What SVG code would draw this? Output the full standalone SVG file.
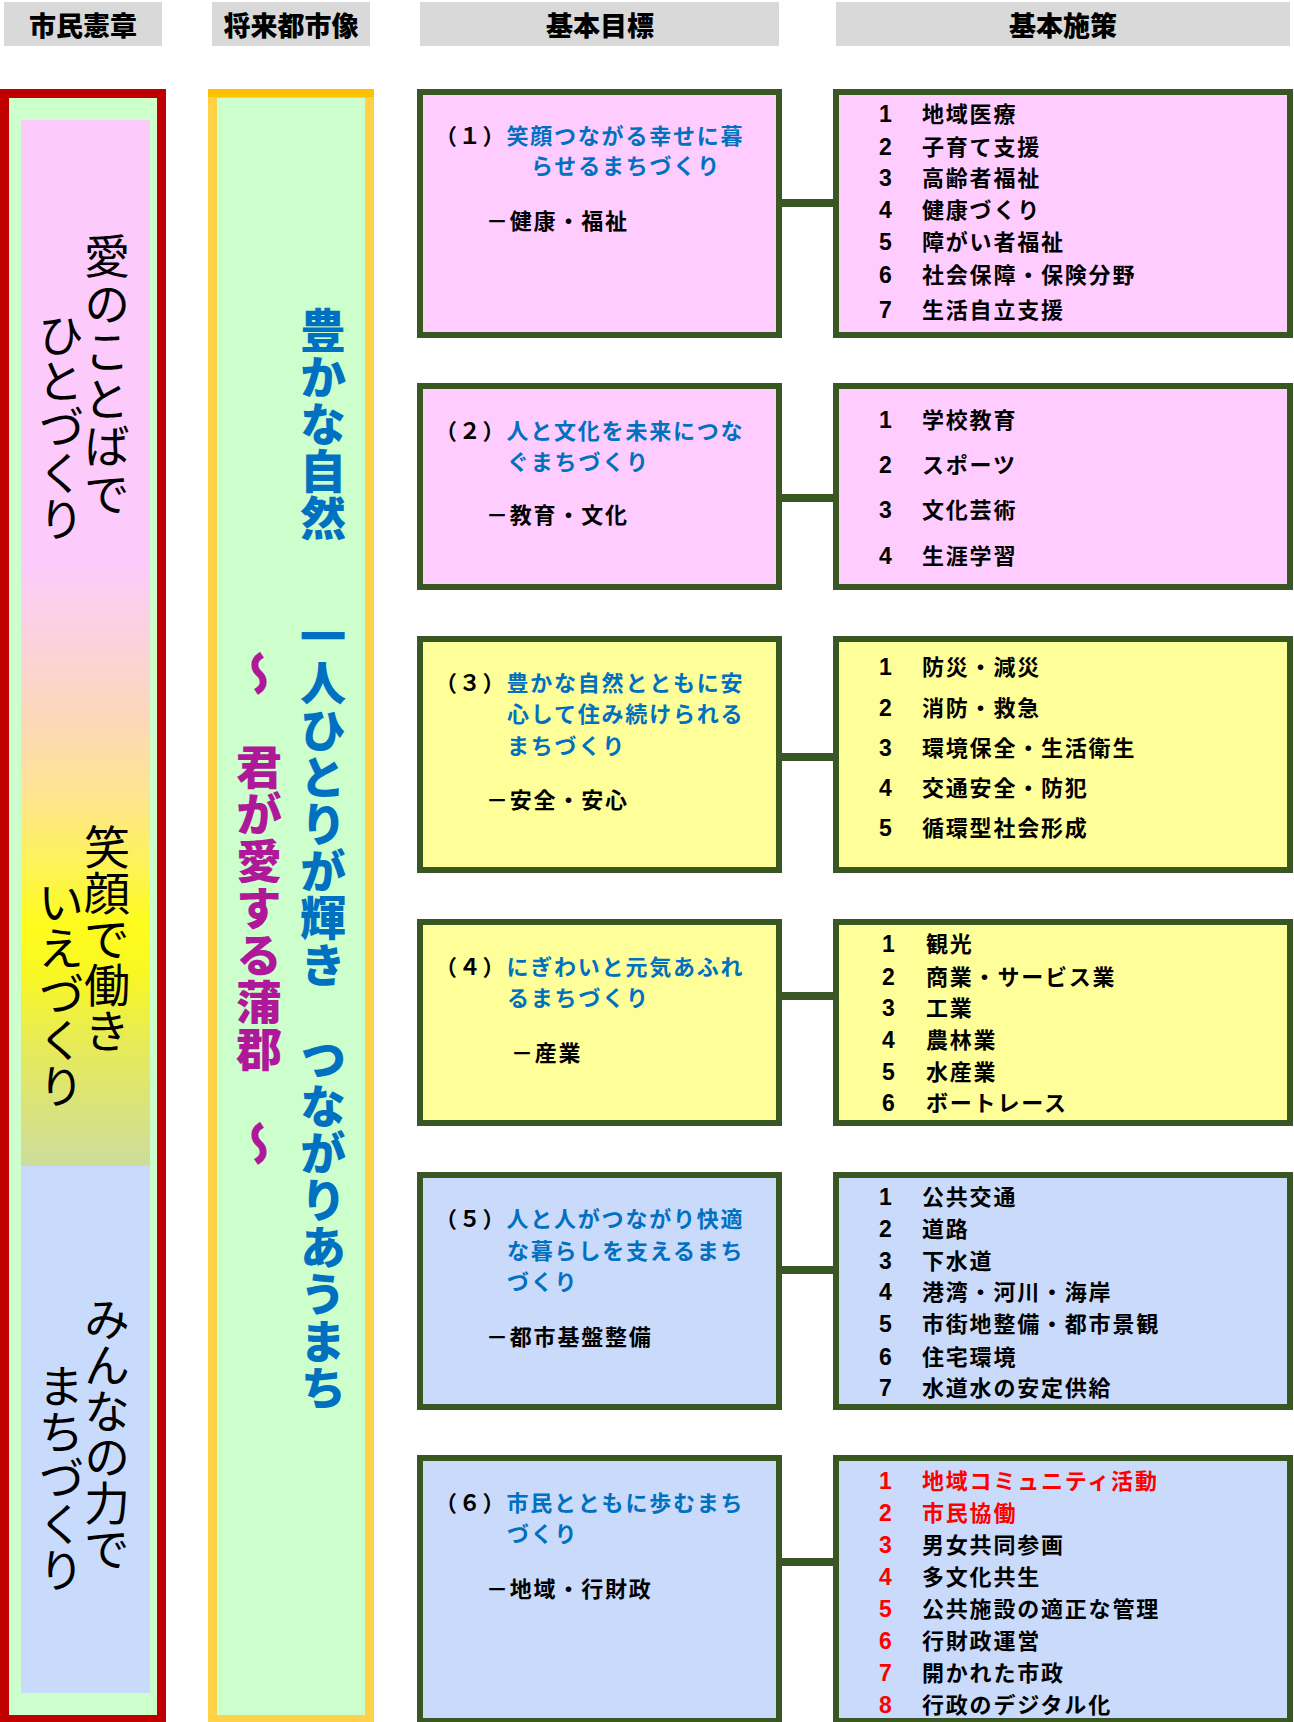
<svg xmlns="http://www.w3.org/2000/svg" width="1294" height="1722" viewBox="0 0 1294 1722">
<defs>
<linearGradient id="charter" gradientUnits="userSpaceOnUse" x1="0" y1="120" x2="0" y2="1166">
<stop offset="0" stop-color="#fccbfc"/>
<stop offset="0.4207" stop-color="#fccbfc"/>
<stop offset="0.4971" stop-color="#fbd2dc"/>
<stop offset="0.5736" stop-color="#fcd8b8"/>
<stop offset="0.6405" stop-color="#fde493"/>
<stop offset="0.7075" stop-color="#fdf25c"/>
<stop offset="0.7696" stop-color="#fefc1c"/>
<stop offset="0.8174" stop-color="#f8f724"/>
<stop offset="0.8795" stop-color="#e8eb55"/>
<stop offset="1" stop-color="#cedc9c"/>
</linearGradient>
<style>
.hdr{fill:#d9d9d9}
.hdrt{font-family:"Noto Sans CJK JP","Noto Sans CJK SC",sans-serif;font-weight:900;font-size:27px;fill:#000;text-anchor:middle}
.box{stroke:#385723;stroke-width:6}
.pink{fill:#ffccff}
.yel{fill:#ffff99}
.blu{fill:#c9dafa}
.t{font-family:"Noto Sans CJK JP","Noto Sans CJK SC",sans-serif;font-weight:700;font-size:22px;letter-spacing:1.8px;fill:#000}
.n{font-family:"Liberation Sans",Arial,sans-serif;font-weight:700;font-size:23px;fill:#000}
.b{fill:#0070c0}
.r{fill:#ff0000}
.conn{fill:#385723}
.vl{font-family:"Noto Sans CJK JP","Noto Sans CJK SC",sans-serif;font-weight:400;font-size:46px;fill:#000;writing-mode:vertical-rl}
.vm{font-family:"Noto Sans CJK JP","Noto Sans CJK SC",sans-serif;font-weight:900;font-size:46px;letter-spacing:1px;writing-mode:vertical-rl}
</style>
</defs>

<g id="headers">
<rect class="hdr" x="4" y="2" width="158" height="44"/>
<text class="hdrt" x="83" y="36">市民憲章</text>
<rect class="hdr" x="212" y="2" width="158" height="44"/>
<text class="hdrt" x="291" y="36">将来都市像</text>
<rect class="hdr" x="420" y="2" width="359" height="44"/>
<text class="hdrt" x="600" y="36">基本目標</text>
<rect class="hdr" x="836" y="2" width="454" height="44"/>
<text class="hdrt" x="1063" y="36">基本施策</text>
</g>

<g id="charter">
<rect x="4.5" y="93.5" width="157" height="1626" fill="#ccffcc" stroke="#c00000" stroke-width="9"/>
<rect x="21" y="120" width="129" height="1047" fill="url(#charter)"/>
<rect x="21" y="1166" width="129" height="527" fill="#c9dbfc"/>
<text class="vl" x="107" y="233" letter-spacing="1.5">愛のことばで</text>
<text class="vl" x="61" y="312">ひとづくり</text>
<text class="vl" x="107" y="824">笑顔で働き</text>
<text class="vl" x="61" y="879">いえづくり</text>
<text class="vl" x="107" y="1296">みんなの力で</text>
<text class="vl" x="61" y="1363">まちづくり</text>
</g>

<g id="vision">
<rect x="212.5" y="93.5" width="157" height="1626" fill="#ccffcc" stroke="#ffd147" stroke-width="9"/>
<rect x="208" y="89" width="166" height="8" fill="#ffc000"/>
<text class="vm" x="323" y="307" fill="#0070c0">豊かな自然</text>
<text class="vm" x="323" y="613" fill="#0070c0">一人ひとりが輝き　つながりあうまち</text>
<text class="vm" x="259" y="650" fill="#b0189a">～　君が愛する蒲郡　～</text>
</g>

<g id="connectors">
<rect class="conn" x="779" y="199" width="57" height="8"/>
<rect class="conn" x="779" y="494" width="57" height="8"/>
<rect class="conn" x="779" y="753" width="57" height="8"/>
<rect class="conn" x="779" y="992" width="57" height="8"/>
<rect class="conn" x="779" y="1266" width="57" height="8"/>
<rect class="conn" x="779" y="1558" width="57" height="8"/>
</g>

<g id="goal1">
<rect class="box pink" x="420" y="92" width="359" height="243"/>
<text class="t" x="435" y="144">（１）<tspan class="b">笑顔つながる幸せに暮</tspan></text>
<text class="t b" x="531" y="174">らせるまちづくり</text>
<text class="t" x="486" y="229">－健康・福祉</text>
</g>
<g id="policy1">
<rect class="box pink" x="836" y="92" width="454" height="243"/>
<text class="n" x="879" y="122">1</text><text class="t" x="922" y="122">地域医療</text>
<text class="n" x="879" y="155">2</text><text class="t" x="922" y="155">子育て支援</text>
<text class="n" x="879" y="186">3</text><text class="t" x="922" y="186">高齢者福祉</text>
<text class="n" x="879" y="218">4</text><text class="t" x="922" y="218">健康づくり</text>
<text class="n" x="879" y="250">5</text><text class="t" x="922" y="250">障がい者福祉</text>
<text class="n" x="879" y="283">6</text><text class="t" x="922" y="283">社会保障・保険分野</text>
<text class="n" x="879" y="318">7</text><text class="t" x="922" y="318">生活自立支援</text>
</g>

<g id="goal2">
<rect class="box pink" x="420" y="386" width="359" height="201"/>
<text class="t" x="435" y="439">（２）<tspan class="b">人と文化を未来につな</tspan></text>
<text class="t b" x="507" y="470">ぐまちづくり</text>
<text class="t" x="486" y="523">－教育・文化</text>
</g>
<g id="policy2">
<rect class="box pink" x="836" y="386" width="454" height="201"/>
<text class="n" x="879" y="428">1</text><text class="t" x="922" y="428">学校教育</text>
<text class="n" x="879" y="473">2</text><text class="t" x="922" y="473">スポーツ</text>
<text class="n" x="879" y="518">3</text><text class="t" x="922" y="518">文化芸術</text>
<text class="n" x="879" y="564">4</text><text class="t" x="922" y="564">生涯学習</text>
</g>

<g id="goal3">
<rect class="box yel" x="420" y="639" width="359" height="231"/>
<text class="t" x="435" y="691">（３）<tspan class="b">豊かな自然とともに安</tspan></text>
<text class="t b" x="507" y="722">心して住み続けられる</text>
<text class="t b" x="507" y="754">まちづくり</text>
<text class="t" x="486" y="808">－安全・安心</text>
</g>
<g id="policy3">
<rect class="box yel" x="836" y="639" width="454" height="231"/>
<text class="n" x="879" y="675">1</text><text class="t" x="922" y="675">防災・減災</text>
<text class="n" x="879" y="716">2</text><text class="t" x="922" y="716">消防・救急</text>
<text class="n" x="879" y="756">3</text><text class="t" x="922" y="756">環境保全・生活衛生</text>
<text class="n" x="879" y="796">4</text><text class="t" x="922" y="796">交通安全・防犯</text>
<text class="n" x="879" y="836">5</text><text class="t" x="922" y="836">循環型社会形成</text>
</g>

<g id="goal4">
<rect class="box yel" x="420" y="922" width="359" height="201"/>
<text class="t" x="435" y="975">（４）<tspan class="b">にぎわいと元気あふれ</tspan></text>
<text class="t b" x="507" y="1006">るまちづくり</text>
<text class="t" x="511" y="1061">－産業</text>
</g>
<g id="policy4">
<rect class="box yel" x="836" y="922" width="454" height="201"/>
<text class="n" x="882" y="952">1</text><text class="t" x="926" y="952">観光</text>
<text class="n" x="882" y="985">2</text><text class="t" x="926" y="985">商業・サービス業</text>
<text class="n" x="882" y="1016">3</text><text class="t" x="926" y="1016">工業</text>
<text class="n" x="882" y="1048">4</text><text class="t" x="926" y="1048">農林業</text>
<text class="n" x="882" y="1080">5</text><text class="t" x="926" y="1080">水産業</text>
<text class="n" x="882" y="1111">6</text><text class="t" x="926" y="1111">ボートレース</text>
</g>

<g id="goal5">
<rect class="box blu" x="420" y="1175" width="359" height="232"/>
<text class="t" x="435" y="1227">（５）<tspan class="b">人と人がつながり快適</tspan></text>
<text class="t b" x="507" y="1259">な暮らしを支えるまち</text>
<text class="t b" x="507" y="1290">づくり</text>
<text class="t" x="486" y="1345">－都市基盤整備</text>
</g>
<g id="policy5">
<rect class="box blu" x="836" y="1175" width="454" height="232"/>
<text class="n" x="879" y="1205">1</text><text class="t" x="922" y="1205">公共交通</text>
<text class="n" x="879" y="1237">2</text><text class="t" x="922" y="1237">道路</text>
<text class="n" x="879" y="1269">3</text><text class="t" x="922" y="1269">下水道</text>
<text class="n" x="879" y="1300">4</text><text class="t" x="922" y="1300">港湾・河川・海岸</text>
<text class="n" x="879" y="1332">5</text><text class="t" x="922" y="1332">市街地整備・都市景観</text>
<text class="n" x="879" y="1365">6</text><text class="t" x="922" y="1365">住宅環境</text>
<text class="n" x="879" y="1396">7</text><text class="t" x="922" y="1396">水道水の安定供給</text>
</g>

<g id="goal6">
<rect class="box blu" x="420" y="1458" width="359" height="263"/>
<text class="t" x="435" y="1511">（６）<tspan class="b">市民とともに歩むまち</tspan></text>
<text class="t b" x="507" y="1542">づくり</text>
<text class="t" x="486" y="1597">－地域・行財政</text>
</g>
<g id="policy6">
<rect class="box blu" x="836" y="1458" width="454" height="263"/>
<text class="n r" x="879" y="1489">1</text><text class="t r" x="922" y="1489">地域コミュニティ活動</text>
<text class="n r" x="879" y="1521">2</text><text class="t r" x="922" y="1521">市民協働</text>
<text class="n r" x="879" y="1553">3</text><text class="t" x="922" y="1553">男女共同参画</text>
<text class="n r" x="879" y="1585">4</text><text class="t" x="922" y="1585">多文化共生</text>
<text class="n r" x="879" y="1617">5</text><text class="t" x="922" y="1617">公共施設の適正な管理</text>
<text class="n r" x="879" y="1649">6</text><text class="t" x="922" y="1649">行財政運営</text>
<text class="n r" x="879" y="1681">7</text><text class="t" x="922" y="1681">開かれた市政</text>
<text class="n r" x="879" y="1713">8</text><text class="t" x="922" y="1713">行政のデジタル化</text>
</g>
</svg>
